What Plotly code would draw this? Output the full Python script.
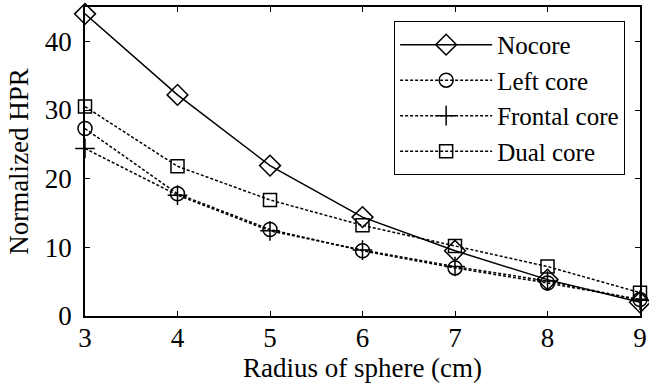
import plotly.graph_objects as go

# Sphere radius (cm) and normalized HPR for each core configuration
radius = [3, 4, 5, 6, 7, 8, 9]
nocore = [44.0, 32.2, 21.9, 14.4, 9.5, 5.3, 2.0]
left_core = [27.3, 17.8, 12.6, 9.5, 7.0, 4.8, 2.4]
frontal_core = [24.4, 17.6, 12.4, 9.6, 7.2, 5.1, 2.3]
dual_core = [30.5, 21.8, 16.9, 13.2, 10.2, 7.2, 3.4]
y_ticks = [0, 10, 20, 30, 40]

series = [
    ("Nocore", nocore, "diamond-open", "solid", 16),
    ("Left core", left_core, "circle-open", "3px,2px", 14),
    ("Frontal core", frontal_core, "cross-thin", "3px,2px", 14),
    ("Dual core", dual_core, "square-open", "3px,2px", 13),
]

fig = go.Figure()
for name, vals, sym, dash, size in series:
    fig.add_trace(go.Scatter(
        x=radius, y=vals, name=name, mode="lines+markers",
        line=dict(color="black", width=1.5, dash=dash),
        marker=dict(symbol=sym, size=size, color="black",
                    line=dict(color="black", width=1.5)),
        cliponaxis=False,
    ))

font = "Liberation Serif"
fig.update_layout(
    width=649, height=391,
    margin=dict(l=85, r=2, t=7, b=75),
    paper_bgcolor="white", plot_bgcolor="white",
    font=dict(family=font, size=27, color="black"),
    showlegend=True,
    legend=dict(x=0.557, y=0.955, xanchor="left", yanchor="top",
                bgcolor="white", bordercolor="black", borderwidth=1,
                font=dict(family=font, size=25), tracegroupgap=0,
                itemwidth=92),
)
fig.update_xaxes(
    range=[3, 9], tickvals=radius, ticks="inside", ticklen=5,
    tickwidth=1, tickcolor="black", ticklabeloverflow="allow",
    ticklabelstandoff=-3,
    showline=True, linecolor="black", linewidth=1.5, mirror="ticks",
    showgrid=False, zeroline=False,
    title=dict(text="Radius of sphere (cm)", font=dict(family=font, size=27),
               standoff=1),
)
fig.update_yaxes(
    range=[0, 45], tickvals=y_ticks, ticks="inside", ticklen=5,
    tickwidth=1, tickcolor="black", ticklabelstandoff=6,
    showline=True, linecolor="black", linewidth=1.5, mirror="ticks",
    showgrid=False, zeroline=False,
    title=dict(text="Normalized HPR", font=dict(family=font, size=27),
               standoff=8),
)

fig.write_html("out.html")
